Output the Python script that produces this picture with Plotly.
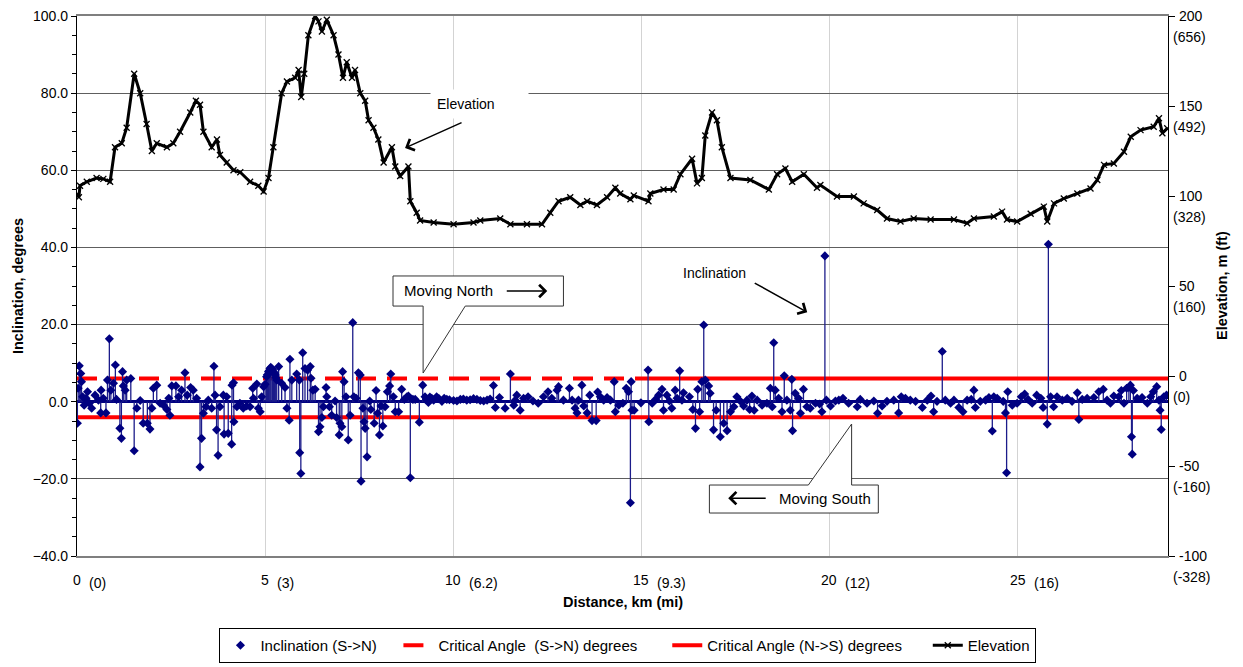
import plotly.graph_objects as go

# ---------------- data ----------------
# Inclination samples along the route (distance in km, inclination in degrees)
inc_km = [
    0.01, 0.03, 0.06, 0.10, 0.12, 0.15, 0.19, 0.24, 0.28, 0.33,
    0.39, 0.48, 0.57, 0.63, 0.64, 0.70, 0.77, 0.81, 0.86, 0.90,
    0.97, 1.02, 1.05, 1.14, 1.18, 1.21, 1.23, 1.28, 1.32, 1.43,
    1.52, 1.59, 1.68, 1.76, 1.87, 1.94, 1.99, 2.03, 2.12, 2.21,
    2.30, 2.39, 2.44, 2.47, 2.52, 2.63, 2.70, 2.78, 2.87, 2.93,
    3.02, 3.09, 3.18, 3.27, 3.31, 3.36, 3.43, 3.49, 3.58, 3.64,
    3.67, 3.71, 3.75, 3.80, 3.89, 3.91, 3.98, 4.02, 4.11, 4.12,
    4.16, 4.17, 4.25, 4.33, 4.42, 4.51, 4.60, 4.67, 4.69, 4.78,
    4.82, 4.87, 4.91, 4.96, 5.00, 5.04, 5.06, 5.09, 5.11, 5.13,
    5.15, 5.18, 5.20, 5.22, 5.25, 5.27, 5.29, 5.31, 5.36, 5.44,
    5.53, 5.58, 5.64, 5.66, 5.71,
    5.84, 5.91, 5.92, 5.95, 6.00, 6.06, 6.13, 6.20, 6.22, 6.27,
    6.33, 6.42, 6.46, 6.51, 6.55, 6.62, 6.64, 6.71, 6.77, 6.86,
    6.90, 6.97, 6.99, 7.04, 7.06, 7.10, 7.15, 7.21, 7.26, 7.33,
    7.36, 7.42, 7.48, 7.53, 7.55, 7.60, 7.63, 7.66, 7.71, 7.78,
    7.81, 7.90, 7.95, 7.99, 8.04, 8.08, 8.13, 8.19, 8.25, 8.31,
    8.34, 8.41, 8.46, 8.55, 8.63, 8.70, 8.77, 8.81, 8.86, 8.93,
    8.99, 9.10, 9.19, 9.25, 9.29, 9.34, 9.38, 9.43, 9.48, 9.56,
    9.62, 9.70, 9.76, 9.83, 9.90, 10.01, 10.10, 10.19, 10.27, 10.36,
    10.45, 10.54, 10.63, 10.72, 10.81, 10.90, 10.98, 11.07, 11.12, 11.23,
    11.38, 11.52, 11.61,
    11.65, 11.69, 11.78, 11.87, 11.99, 12.12, 12.26, 12.40, 12.52, 12.62,
    12.76, 12.80, 12.93, 13.09, 13.16, 13.24, 13.29, 13.33, 13.42, 13.47,
    13.56, 13.63, 13.69, 13.80, 13.84, 13.91, 14.00, 14.09, 14.18, 14.28,
    14.31, 14.40, 14.51, 14.60, 14.66, 14.71, 14.73, 14.75, 14.81, 14.99,
    15.18, 15.20, 15.29, 15.38, 15.46, 15.55, 15.59, 15.68, 15.75, 15.81,
    15.90, 15.95, 16.02, 16.08, 16.12, 16.28, 16.37, 16.44, 16.50, 16.55,
    16.61, 16.66, 16.70, 16.79, 16.83, 16.92, 16.99, 17.10, 17.19, 17.28,
    17.37,
    17.46, 17.54, 17.63, 17.72, 17.81, 17.88, 17.94, 18.00, 18.08, 18.21,
    18.34, 18.43, 18.48, 18.52, 18.56, 18.65, 18.74, 18.80, 18.87, 18.96,
    19.00, 19.02, 19.09, 19.18, 19.23, 19.31, 19.40, 19.49, 19.63, 19.74,
    19.80, 19.88, 19.92, 20.03, 20.16, 20.25, 20.36, 20.51, 20.74, 20.82,
    21.00, 21.18, 21.28, 21.40, 21.53, 21.71, 21.84, 21.91, 22.02, 22.15,
    22.29, 22.47, 22.60, 22.70, 22.77, 22.86, 23.00, 23.08, 23.22,
    23.31, 23.44, 23.55, 23.66, 23.77, 23.84, 23.88, 24.01, 24.15, 24.24,
    24.33, 24.37, 24.46, 24.62, 24.68, 24.71, 24.74, 24.86, 24.99, 25.10,
    25.19, 25.28, 25.39, 25.51, 25.62, 25.68, 25.79, 25.82, 25.88, 25.96,
    26.05, 26.19, 26.32, 26.45, 26.59, 26.63, 26.72, 26.85, 27.03, 27.16,
    27.28, 27.38, 27.47, 27.56, 27.69, 27.76, 27.83, 27.90, 27.96, 28.00,
    28.03, 28.05, 28.08, 28.18, 28.31, 28.45, 28.54, 28.61, 28.70, 28.76,
    28.79, 28.82, 28.89, 28.96,
]
inc_deg = [
    -5.6, 3.5, 9.3, 7.3, 5.2, 1.3, -0.9, 0.9, 2.6, -0.4,
    -1.7, 1.7, 0.4, -2.9, 3.0, 0.9, -2.9, 5.6, 16.3, 3.0,
    4.8, 9.5, 0.6, -6.9, -9.5, 7.8, 4.1, 3.0, 5.6, 6.0,
    -12.7, -1.7, 0.3, -5.6, -5.6, -7.1, -1.7, 3.5, 4.3, -0.4,
    -0.9, -2.0, 0.9, -3.5, 4.1, 4.1, 1.3, 3.0, 7.5, 1.7,
    3.7, 3.0, 0.9, -16.9, -9.5, -3.0, -1.3, 0.4, -1.7, 9.2,
    1.7, -7.3, -13.9, -1.3, 1.7, -8.4, 1.3, -8.2, -11.0, 4.3,
    4.9, -5.2, -1.3, -0.4, -1.7, -1.1, -1.3, 3.5, 0.9, 4.6,
    -1.7, -2.6, 1.3, 3.9, 4.5, 6.5, 7.0, 7.8, 8.0, 8.6,
    8.9, 8.6, 8.3, 7.8, 7.4, 6.9, 6.2, 5.6, 9.1, 4.8,
    3.7, -1.7, -4.8, 11.0, 5.6,
    7.2, 5.6, -13.2, -18.6, 12.7, 8.6, 8.2, 9.1, 6.1, 3.0,
    3.2, -7.8, -6.5, -4.1, -1.3, 3.7, 1.3, -1.3, -3.5, 0.2,
    -4.1, -8.6, -5.6, -6.5, 7.8, 5.2, 1.3, -9.9, -3.5, 20.5,
    1.3, 0.9, 7.5, 6.9, -20.6, -1.7, -5.2, -6.9, -14.3, 0.2,
    -2.0, -5.6, 2.9, -3.0, -8.6, -1.1, -6.3, -1.3, 2.6, 4.1,
    7.2, 1.3, -2.6, -2.6, 3.2, 0.6, 1.3, 1.5, -19.7, 0.6,
    0.6, -5.3, 4.3, 1.3, 0.5, -0.2, 1.2, 0.9, 0.4, 1.3,
    0.8, 0.1, 0.9, 0.6, 0.5, 0.3, 0.2, 0.6, 0.7, 0.4,
    0.5, 0.8, 0.6, 0.3, 0.2, 0.4, 0.7, 4.2, -1.5, 1.1,
    -1.7, 7.2, -0.9,
    0.4, 1.7, -2.2, 0.9, 1.3, 0.2, -0.4, 1.3, 2.6, 0.9,
    3.0, 3.9, 0.4, 3.5, 0.4, -1.7, -2.9, 0.4, 4.3, -1.1,
    -2.9, 1.7, -4.9, -4.9, 2.5, 1.3, 0.4, 1.1, 0.4, 5.2,
    -2.6, -0.9, -0.4, 3.5, 2.6, -26.2, 5.2, -2.2, -2.2, -0.3,
    8.2, -5.2, -0.4, 0.6, 1.7, 3.2, -2.2, 1.7, 0.2, -1.7,
    3.0, 0.9, 8.0, 0.4, 2.3, 1.3, -2.0, -6.9, 3.2, -2.6,
    5.2, 19.9, 5.6, 4.1, 2.2, -7.3, -2.2, -9.1, -5.6, -7.5,
    -2.6,
    -1.3, 1.3, 0.2, -1.1, 0.4, -2.0, 1.5, -2.2, 0.4, -0.9,
    -0.4, 3.5, -1.3, 15.3, 3.0, 0.9, -2.6, 6.7, 0.4, -2.2,
    5.8, -7.5, 2.2, 0.9, -3.0, 3.2, -1.3, -1.7, -0.4, -0.6,
    -2.6, 37.8, 0.4, -1.1, 0.2, 0.4, 0.9, -0.4, -1.3, 0.6,
    -0.4, 0.2, -3.0, -1.1, 0.1, 0.4, -2.9, 1.3, 0.9, 0.4,
    0.1, -1.5, 0.4, 1.5, -2.6, 0.1, 13.0, 0.4, -0.4,
    0.4, -1.5, -2.6, 0.4, 0.6, 3.0, -1.5, 0.1, 0.4, 1.1,
    -7.6, 1.3, 0.9, 0.1, -2.9, -18.4, 2.6, -0.9, -0.4, 1.3,
    2.0, 0.6, -0.4, 1.7, 0.9, -1.5, -5.8, 40.8, 1.3, -1.3,
    1.3, 0.4, 0.9, 0.1, 2.3, -4.6, 0.6, 0.9, 1.1, 2.6,
    3.2, 0.4, -0.4, 1.5, 1.3, 2.9, -0.4, 3.5, 3.7, 4.3,
    -9.1, -13.6, 2.9, 0.9, 1.1, -0.4, 1.3, 2.6, 3.9, 0.4,
    -2.2, -7.2, 1.3, 1.7,
]

# Ground elevation profile (distance in km, elevation in m)
elev_km = [
    0.00, 0.05, 0.08, 0.26, 0.52, 0.70, 0.88, 1.01, 1.19, 1.32,
    1.52, 1.68, 1.85, 1.99, 2.12, 2.39, 2.56, 2.74, 3.01, 3.16,
    3.27, 3.36, 3.58, 3.72, 3.80, 3.98, 4.16, 4.34, 4.60, 4.82,
    4.96, 5.09, 5.22, 5.44, 5.58, 5.80, 5.89, 5.96, 6.04, 6.15,
    6.33, 6.42, 6.51, 6.64, 6.82, 6.95, 7.07, 7.17, 7.31, 7.39,
    7.53, 7.66, 7.75, 7.88, 8.01, 8.15, 8.37, 8.46, 8.59, 8.81,
    8.86, 9.03, 9.12, 9.48, 10.01, 10.54, 10.72, 11.25, 11.52, 11.96,
    12.36, 12.58, 12.80, 13.11, 13.38, 13.56, 13.82, 14.09, 14.31, 14.44,
    14.71, 14.80, 15.19, 15.24, 15.59, 15.86, 16.04, 16.35, 16.48, 16.61,
    16.70, 16.88, 17.01, 17.14, 17.37, 17.90, 18.39, 18.61, 18.83, 19.01,
    19.32, 19.67, 19.76, 20.20, 20.65, 20.91, 21.27, 21.53, 21.89, 22.24,
    22.69, 23.31, 23.66, 23.84, 24.37, 24.59, 24.72, 24.99, 25.35, 25.70,
    25.79, 25.97, 26.23, 26.59, 26.94, 27.12, 27.30, 27.56, 27.83, 28.01,
    28.27, 28.62, 28.76, 28.85, 28.98,
]
elev_m = [
    101.0, 99.3, 105.7, 107.9, 110.0, 109.5, 107.9, 127.1, 129.3, 137.9,
    167.9, 157.1, 140.0, 125.0, 129.3, 127.1, 129.3, 135.7, 146.4, 152.9,
    150.7, 135.7, 127.1, 131.4, 122.8, 118.6, 114.3, 113.2, 107.9, 105.7,
    102.5, 110.0, 127.1, 157.1, 163.6, 165.7, 170.0, 155.0, 167.9, 189.3,
    200.0, 197.0, 191.4, 197.9, 189.3, 178.6, 165.7, 174.3, 165.7, 170.0,
    157.1, 152.9, 142.1, 137.9, 131.4, 118.6, 127.1, 116.4, 111.1, 116.4,
    97.1, 90.7, 86.4, 85.3, 84.3, 85.3, 86.4, 87.5, 84.3, 84.3,
    84.3, 90.7, 97.1, 99.3, 95.0, 97.1, 95.0, 99.3, 104.6, 101.4,
    98.2, 100.3, 97.1, 101.4, 103.6, 103.6, 112.1, 120.7, 107.0, 110.0,
    133.6, 146.4, 142.1, 127.1, 110.0, 108.9, 103.6, 112.1, 115.3, 107.9,
    112.1, 104.6, 106.1, 99.7, 99.7, 95.9, 92.2, 87.5, 85.8, 87.5,
    86.9, 86.9, 84.9, 87.5, 88.6, 91.3, 86.9, 85.8, 90.1, 94.1,
    85.8, 95.9, 98.6, 101.4, 104.2, 108.9, 117.3, 118.1, 124.6, 132.9,
    136.6, 138.5, 143.2, 134.9, 137.6,
]

# Critical angle reference lines (degrees)
crit_sn_km = [0.0, 15.2]
crit_sn_deg = [6.0, 6.0]
crit_ns_km = [0.0, 29.0, None, 15.2, 29.0]
crit_ns_deg = [-4.0, -4.0, None, 6.0, 6.0]

# Axis labels
x_tick_km = [0, 5, 10, 15, 20, 25]
x_tick_km_text = ["0", "5", "10", "15", "20", "25"]
x_tick_mi_text = ["(0)", "(3)", "(6.2)", "(9.3)", "(12)", "(16)"]
elev_tick_m = [200, 150, 100, 50, 0, -50, -100]
elev_tick_m_text = ["200", "150", "100", "50", "0", "-50", "-100"]
elev_tick_ft_text = ["(656)", "(492)", "(328)", "(160)", "(0)", "(-160)", "(-328)"]

FONT = "Arial, Liberation Sans, sans-serif"
NAVY = "#000080"
RED = "#FF0000"
NB = "&nbsp;"

# ---------------- figure ----------------
fig = go.Figure()

fig.add_trace(go.Scatter(
    x=crit_sn_km, y=crit_sn_deg, mode="lines",
    name="Critical Angle" + NB + " (S->N) degrees" + NB * 6,
    line=dict(color=RED, width=4, dash="20px,11px"),
    hoverinfo="skip",
))
fig.add_trace(go.Scatter(
    x=crit_ns_km, y=crit_ns_deg, mode="lines+markers",
    name="Critical Angle (N->S) degrees" + NB * 5,
    line=dict(color=RED, width=4),
    marker=dict(symbol="line-ew", size=1, color=RED, line=dict(width=0)),
    connectgaps=False,
    hoverinfo="skip",
))

# stems drawn from zero to each inclination sample
stem_up = [max(0.0, -v) for v in inc_deg]
stem_down = [max(0.0, v) for v in inc_deg]
fig.add_trace(go.Scatter(
    x=inc_km, y=inc_deg, mode="markers",
    name="Inclination (S->N)" + NB * 4,
    marker=dict(symbol="diamond", size=7, color=NAVY),
    error_y=dict(type="data", symmetric=False, array=stem_up,
                 arrayminus=stem_down, width=0, thickness=1.3,
                 color="#1c1c8a"),
))

fig.add_trace(go.Scatter(
    x=elev_km, y=elev_m, mode="lines+markers", yaxis="y2",
    name="Elevation",
    line=dict(color="black", width=3),
    marker=dict(symbol="x-thin", size=6, color="black",
                line=dict(color="black", width=1.3)),
))

# ---------------- axes ----------------
fig.update_layout(
    width=1243, height=667,
    margin=dict(l=77, r=75, t=16, b=111, autoexpand=False),
    paper_bgcolor="white", plot_bgcolor="white",
    font=dict(family=FONT, size=13, color="black"),
    showlegend=True,
    xaxis=dict(
        range=[0, 29], tickvals=x_tick_km, showticklabels=False,
        showgrid=True, gridcolor="#d3d3d3", gridwidth=1,
        showline=True, linecolor="#7f7f7f", linewidth=1.5, mirror=True,
        ticks="", zeroline=False,
    ),
    yaxis=dict(
        range=[-40, 100], dtick=20, tick0=0, tickformat=".1f",
        showgrid=True, gridcolor="#5e5e5e", gridwidth=1,
        showline=True, linecolor="black", linewidth=1.2,
        ticks="outside", ticklen=5, tickcolor="black",
        minor=dict(dtick=5, ticks="outside", ticklen=4, tickcolor="black", showgrid=False),
        tickfont=dict(size=14, family=FONT),
        zeroline=True, zerolinecolor=NAVY, zerolinewidth=2.5,
    ),
    yaxis2=dict(
        range=[-100, 200], tickvals=elev_tick_m, overlaying="y", side="right",
        showticklabels=False, showgrid=False, zeroline=False,
        showline=True, linecolor="black", linewidth=1.2,
        ticks="outside", ticklen=6, tickcolor="black",
    ),
    legend=dict(
        orientation="h", x=0.505, xanchor="center", y=-0.1333, yanchor="top",
        bordercolor="black", borderwidth=1, bgcolor="white",
        font=dict(size=15, family=FONT),
        traceorder="normal",
    ),
)

# order legend entries: Inclination, Critical S->N, Critical N->S, Elevation
fig.data[2].legendrank = 1
fig.data[0].legendrank = 2
fig.data[1].legendrank = 3
fig.data[3].legendrank = 4

annotations = []

# x-axis tick labels: km centred on the tick, miles in parentheses after it
for km, ktxt, mtxt in zip(x_tick_km, x_tick_km_text, x_tick_mi_text):
    annotations.append(dict(
        x=km, xref="x", y=0, yref="paper", text=ktxt, showarrow=False,
        xanchor="center", yanchor="middle", yshift=-24,
        font=dict(size=14, family=FONT),
    ))
    annotations.append(dict(
        x=km, xref="x", y=0, yref="paper", text=mtxt, showarrow=False,
        xanchor="left", yanchor="middle", yshift=-27,
        xshift=10 if len(ktxt) == 1 else 14,
        font=dict(size=14, family=FONT),
    ))

# right axis labels: metres with feet underneath
for m, mtxt, ftxt in zip(elev_tick_m, elev_tick_m_text, elev_tick_ft_text):
    annotations.append(dict(
        x=1.0083, xref="paper", y=m, yref="y2", text=mtxt, showarrow=False,
        xanchor="left", yanchor="middle", font=dict(size=14, family=FONT),
    ))
    annotations.append(dict(
        x=1.0028, xref="paper", y=m, yref="y2", text=ftxt, showarrow=False,
        xanchor="left", yanchor="middle", yshift=-21,
        font=dict(size=14, family=FONT),
    ))

# axis titles
annotations += [
    dict(x=0.5, xref="paper", y=0, yref="paper", yshift=-46,
         text="<b>Distance, km (mi)</b>", showarrow=False,
         xanchor="center", yanchor="middle", font=dict(size=14.5, family=FONT)),
    dict(x=-0.054, xref="paper", y=0.5, yref="paper",
         text="<b>Inclination, degrees</b>", showarrow=False, textangle=-90,
         xanchor="center", yanchor="middle", font=dict(size=14.5, family=FONT)),
    dict(x=1.0495, xref="paper", y=0.5, yref="paper",
         text="<b>Elevation, m (ft)</b>", showarrow=False, textangle=-90,
         xanchor="center", yanchor="middle", font=dict(size=14.5, family=FONT)),
]

# callout labels and arrows
annotations += [
    dict(x=10.69, y=77.2, xref="x", yref="y", text="Elevation", showarrow=False,
         bgcolor="white", width=85, align="left", borderpad=6,
         font=dict(size=14, family=FONT)),
    dict(x=8.72, y=65.8, xref="x", yref="y", ax=58, ay=-26, text="",
         showarrow=True, arrowhead=4, arrowsize=1.6, arrowwidth=1.5, arrowcolor="black"),
    dict(x=16.94, y=33.4, xref="x", yref="y", text="Inclination", showarrow=False,
         font=dict(size=14, family=FONT)),
    dict(x=19.41, y=23.2, xref="x", yref="y", ax=-54, ay=-30, text="",
         showarrow=True, arrowhead=4, arrowsize=1.6, arrowwidth=1.5, arrowcolor="black"),
    dict(x=9.87, y=28.9, xref="x", yref="y", text="Moving North", showarrow=False,
         font=dict(size=15, family=FONT)),
    dict(x=12.50, y=28.7, xref="x", yref="y", ax=-42, ay=0, text="",
         showarrow=True, arrowhead=4, arrowsize=1.6, arrowwidth=1.5, arrowcolor="black"),
    dict(x=19.87, y=-25.0, xref="x", yref="y", text="Moving South", showarrow=False,
         font=dict(size=15, family=FONT)),
    dict(x=17.31, y=-25.0, xref="x", yref="y", ax=39, ay=0, text="",
         showarrow=True, arrowhead=4, arrowsize=1.6, arrowwidth=1.5, arrowcolor="black"),
]
fig.update_layout(annotations=annotations)

# callout boxes with pointers
fig.update_layout(shapes=[
    dict(type="path", xref="x", yref="y", layer="above",
         path="M 8.40,32.6 L 12.93,32.6 L 12.93,24.8 L 10.32,24.8 L 9.20,7.44 "
              "L 9.20,24.8 L 8.40,24.8 Z",
         fillcolor="white", line=dict(color="#333333", width=1)),
    dict(type="path", xref="x", yref="y", layer="above",
         path="M 16.81,-21.6 L 19.44,-21.6 L 20.59,-5.78 L 20.59,-21.6 "
              "L 21.30,-21.6 L 21.30,-28.86 L 16.81,-28.86 Z",
         fillcolor="white", line=dict(color="#333333", width=1)),
])

fig.write_html("out.html")
